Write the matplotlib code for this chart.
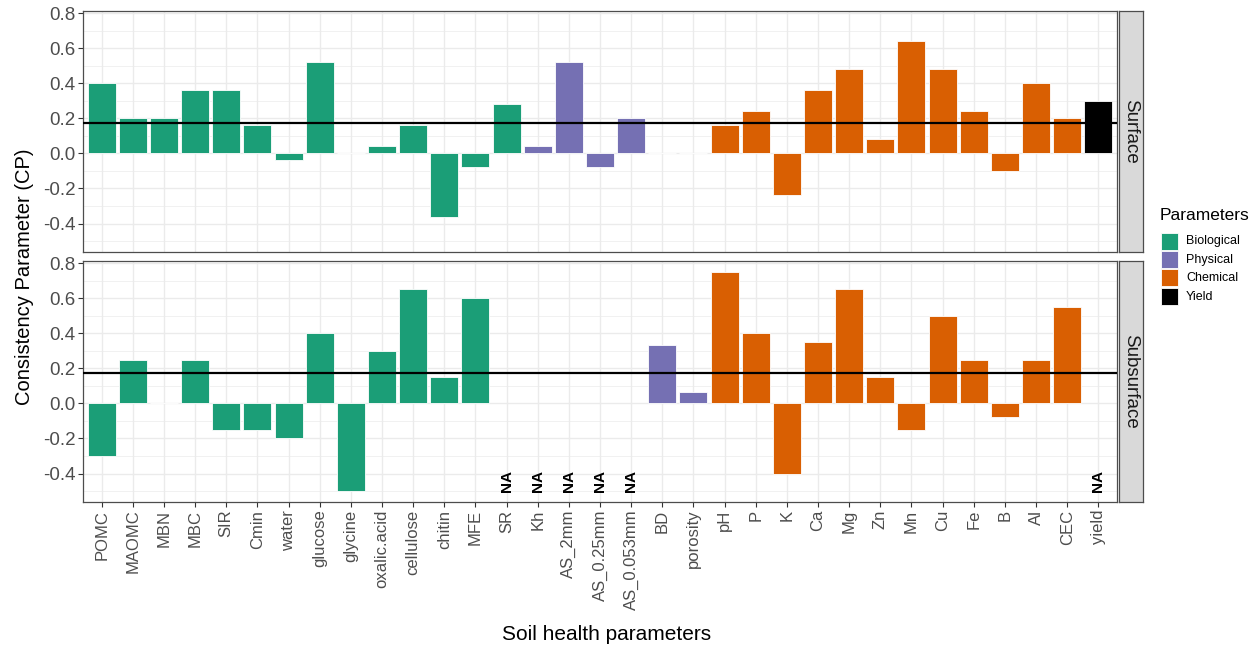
import numpy as np
import matplotlib
matplotlib.use("Agg")
import matplotlib.pyplot as plt
from matplotlib.patches import Rectangle
from matplotlib.ticker import FixedLocator

plt.rcParams['font.family'] = ['Liberation Sans', 'DejaVu Sans']

categories = ["POMC", "MAOMC", "MBN", "MBC", "SIR", "Cmin", "water", "glucose",
              "glycine", "oxalic.acid", "cellulose", "chitin", "MFE", "SR", "Kh",
              "AS_2mm", "AS_0.25mm", "AS_0.053mm", "BD", "porosity", "pH", "P", "K",
              "Ca", "Mg", "Zn", "Mn", "Cu", "Fe", "B", "Al", "CEC", "yield"]
groups = ["Biological"] * 14 + ["Physical"] * 6 + ["Chemical"] * 12 + ["Yield"]

surface = [0.40, 0.20, 0.20, 0.36, 0.36, 0.16, -0.04, 0.52,
           0.0, 0.04, 0.16, -0.36, -0.08, 0.28, 0.04,
           0.52, -0.08, 0.20, 0.0, 0.0, 0.16, 0.24, -0.24,
           0.36, 0.48, 0.08, 0.64, 0.48, 0.24, -0.10, 0.40, 0.20, 0.30]
subsurface = [-0.30, 0.25, 0.0, 0.25, -0.15, -0.15, -0.20, 0.40,
              -0.50, 0.30, 0.65, 0.15, 0.60, np.nan, np.nan,
              np.nan, np.nan, np.nan, 0.333, 0.065, 0.75, 0.40, -0.40,
              0.35, 0.65, 0.15, -0.15, 0.50, 0.25, -0.075, 0.25, 0.55, np.nan]
reference_line = 0.175
panel_names = ["Surface", "Subsurface"]
group_names = ["Biological", "Physical", "Chemical", "Yield"]
group_colors = {"Biological": "#1B9E77", "Physical": "#7570B3",
                "Chemical": "#D95F02", "Yield": "#000000"}
ytick_vals = [-0.4, -0.2, 0.0, 0.2, 0.4, 0.6, 0.8]
ytick_labels = ["-0.4", "-0.2", "0.0", "0.2", "0.4", "0.6", "0.8"]

W, H = 1257, 651
fig = plt.figure(figsize=(W / 100, H / 100), dpi=100)

def fx(px):
    return px / W

def fy(py):
    return 1 - py / H

left, right = 83, 1117
panels = [(11, 252), (261, 502)]
x = np.arange(len(categories))
colors = np.array([group_colors[g] for g in groups])
grid_c = "#EBEBEB"

for i, (vals, (t, b)) in enumerate(zip([surface, subsurface], panels)):
    ax = fig.add_axes([fx(left), fy(b), fx(right - left), (b - t) / H])
    v = np.array(vals, dtype=float)
    mask = ~np.isnan(v)
    ax.bar(x[mask], v[mask], width=0.9, color=colors[mask],
           edgecolor="white", linewidth=0.6, zorder=3)
    for xi in x[~mask]:
        ax.text(xi, -0.44, "NA", rotation=90, ha="center", va="center",
                fontsize=11, fontweight="bold", color="black", zorder=4)
    ax.axhline(reference_line, color="black", linewidth=1.6, zorder=5)
    ax.set_xlim(-0.6, len(categories) - 0.4)
    ax.set_ylim(-0.5625, 0.8125)
    ax.yaxis.set_major_locator(FixedLocator(ytick_vals))
    ax.yaxis.set_minor_locator(FixedLocator([-0.5, -0.3, -0.1, 0.1, 0.3, 0.5, 0.7]))
    ax.set_yticklabels(ytick_labels)
    ax.set_xticks(x)
    ax.grid(which="major", color=grid_c, linewidth=1.0, zorder=0)
    ax.grid(which="minor", axis="y", color=grid_c, linewidth=0.5, zorder=0)
    ax.set_axisbelow(True)
    for s in ax.spines.values():
        s.set_color("#4D4D4D")
        s.set_linewidth(0.9)
    ax.tick_params(axis="both", which="major", length=3.5, width=0.8,
                   color="#333333", labelcolor="#4D4D4D", pad=2)
    ax.tick_params(axis="y", labelsize=13.5)
    ax.tick_params(axis="x", labelsize=12)
    ax.tick_params(axis="y", which="minor", length=0)
    if i == 0:
        ax.tick_params(axis="x", which="major", length=0, labelbottom=False)
    else:
        ax.set_xticklabels(categories, rotation=90, ha="center", va="top")
    sax = fig.add_axes([fx(right + 2), fy(b), fx(24), (b - t) / H])
    sax.set_xticks([]); sax.set_yticks([])
    sax.set_facecolor("#D9D9D9")
    for s in sax.spines.values():
        s.set_color("#4D4D4D")
        s.set_linewidth(0.9)
    sax.text(0.5, 0.5, panel_names[i], rotation=-90, ha="center", va="center",
             fontsize=13.5, color="#1A1A1A", transform=sax.transAxes)

fig.text(fx(25), fy(277), "Consistency Parameter (CP)", rotation=90,
         ha="center", va="center", fontsize=14.5, color="black")
fig.text(fx(607), fy(634), "Soil health parameters", ha="center", va="center",
         fontsize=15, color="black")

fig.text(fx(1160), fy(215), "Parameters", ha="left", va="center",
         fontsize=12.5, color="black")
key_y = [241, 259.5, 278, 296.5]
for name, ky in zip(group_names, key_y):
    fig.patches.append(Rectangle((fx(1161), fy(ky + 8.5)), fx(17), 17 / H,
                                 transform=fig.transFigure, facecolor=group_colors[name],
                                 edgecolor="white", linewidth=0.6))
    fig.text(fx(1186), fy(ky), name, ha="left", va="center", fontsize=9,
             color="black")

fig.savefig("out.png", dpi=100)
